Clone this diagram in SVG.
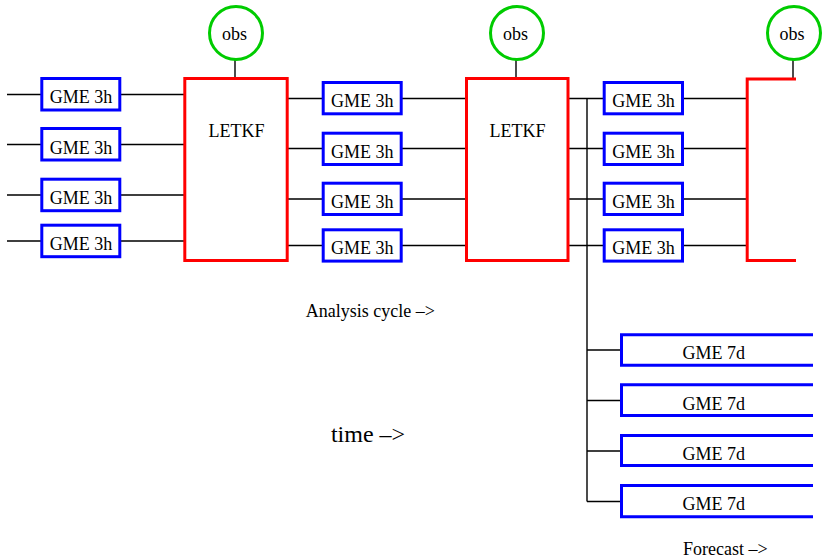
<svg xmlns="http://www.w3.org/2000/svg" width="822" height="559" viewBox="0 0 822 559">
<style>
.t{font-family:"Liberation Serif","Times New Roman",serif;font-size:18px;fill:#000;text-anchor:middle}
.gme{fill:#fff;stroke:#0000ff;stroke-width:3}
.gmeo{fill:none;stroke:#0000ff;stroke-width:3}
.kf{fill:#fff;stroke:#ff0000;stroke-width:3}
.kfo{fill:none;stroke:#ff0000;stroke-width:3}
.obs{fill:#fff;stroke:#00cc00;stroke-width:3}
.c{stroke:#000;stroke-width:1.4;fill:none}
</style>
<rect width="822" height="559" fill="#fff"/>
<g id="connectors">
<path class="c" d="M7,94.5H42M120,94.5H185M7,144.5H42M120,144.5H185M7,195H42M120,195H185M7,241H42M120,241H185"/>
<path class="c" d="M288,98.5H323M402,98.5H467M288,148.5H323M402,148.5H467M288,199H323M402,199H467M288,245.5H323M402,245.5H467"/>
<path class="c" d="M568,98.5H604M683,98.5H747M568,148.5H604M683,148.5H747M568,199H604M683,199H747M568,245.5H604M683,245.5H747"/>
<path class="c" d="M587,98.5V501.5M587,350H621M587,400.5H621M587,451H621M587,501.5H621"/>
<path class="c" d="M235,60V78M516,60V78M793,60V78"/>
</g>
<g id="obs1"><circle class="obs" cx="236" cy="33" r="26.5"/><text class="t" x="234.5" y="40">obs</text></g>
<g id="obs2"><circle class="obs" cx="517" cy="33" r="26.5"/><text class="t" x="515.5" y="40">obs</text></g>
<g id="obs3"><circle class="obs" cx="794" cy="33" r="26.5"/><text class="t" x="792" y="40">obs</text></g>
<g id="letkf1"><rect class="kf" x="184.8" y="78.5" width="102.4" height="182"/><text class="t" x="236.5" y="136.7">LETKF</text></g>
<g id="letkf2"><rect class="kf" x="466.5" y="78.5" width="101.5" height="182"/><text class="t" x="517.5" y="136.7">LETKF</text></g>
<g id="letkf3"><path class="kfo" d="M796,79H747.2V260.5H796"/></g>
<g id="gme1a"><rect class="gme" x="41.8" y="78.5" width="78" height="31.5"/><text class="t" x="81" y="103.3">GME 3h</text></g>
<g id="gme1b"><rect class="gme" x="41.8" y="128.5" width="78" height="31.5"/><text class="t" x="81" y="153.5">GME 3h</text></g>
<g id="gme1c"><rect class="gme" x="41.8" y="179.2" width="78" height="31.5"/><text class="t" x="81" y="204">GME 3h</text></g>
<g id="gme1d"><rect class="gme" x="41.8" y="225.2" width="78" height="31.5"/><text class="t" x="81" y="250">GME 3h</text></g>
<g id="gme2a"><rect class="gme" x="323.2" y="82.5" width="78" height="31.3"/><text class="t" x="362.3" y="107">GME 3h</text></g>
<g id="gme2b"><rect class="gme" x="323.2" y="133.2" width="78" height="31.3"/><text class="t" x="362.3" y="157.5">GME 3h</text></g>
<g id="gme2c"><rect class="gme" x="323.2" y="183.2" width="78" height="31.3"/><text class="t" x="362.3" y="208">GME 3h</text></g>
<g id="gme2d"><rect class="gme" x="323.2" y="229.8" width="78" height="31.3"/><text class="t" x="362.3" y="254.3">GME 3h</text></g>
<g id="gme3a"><rect class="gme" x="604.2" y="82.5" width="78.3" height="31.3"/><text class="t" x="643.5" y="107">GME 3h</text></g>
<g id="gme3b"><rect class="gme" x="604.2" y="133.2" width="78.3" height="31.3"/><text class="t" x="643.5" y="157.5">GME 3h</text></g>
<g id="gme3c"><rect class="gme" x="604.2" y="183.2" width="78.3" height="31.3"/><text class="t" x="643.5" y="208">GME 3h</text></g>
<g id="gme3d"><rect class="gme" x="604.2" y="229.8" width="78.3" height="31.3"/><text class="t" x="643.5" y="254.3">GME 3h</text></g>
<g id="gme7a"><path class="gmeo" d="M813,334.8H621.5V365.2H813"/><text class="t" x="713.7" y="359.3">GME 7d</text></g>
<g id="gme7b"><path class="gmeo" d="M813,384.8H621.5V415.5H813"/><text class="t" x="713.7" y="409.5">GME 7d</text></g>
<g id="gme7c"><path class="gmeo" d="M813,435.5H621.5V465.5H813"/><text class="t" x="713.7" y="460">GME 7d</text></g>
<g id="gme7d"><path class="gmeo" d="M813,485.5H621.5V516.8H813"/><text class="t" x="713.7" y="510.3">GME 7d</text></g>
<text class="t" x="370.3" y="316.7">Analysis cycle –&gt;</text>
<text class="t" x="368" y="442" style="font-size:24px">time –&gt;</text>
<text class="t" x="725.3" y="555">Forecast –&gt;</text>
</svg>
